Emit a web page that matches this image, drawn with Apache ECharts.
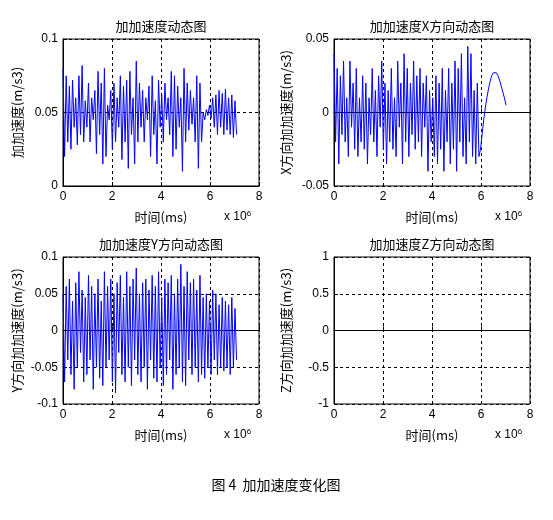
<!DOCTYPE html><html><head><meta charset="utf-8"><script src="https://cdn.jsdelivr.net/npm/echarts@6/dist/echarts.min.js"></script>
<style>body{margin:0;background:#fff}#c{width:553px;height:520px}</style></head><body><div id="c"></div><script>
const titles=['加加速度动态图','加加速度X方向动态图','加加速度Y方向动态图','加加速度Z方向动态图'];
const yNames=['加加速度(m/s3)','X方向加加速度(m/s3)','Y方向加加速度(m/s3)','Z方向加加速度(m/s3)'];
const xTicks=[0,2,4,6,8];
const step=0.065; // sample spacing in units of 10^6 ms
const accTotal=[0.08,0.02,0.075,0.03,0.068,0.025,0.072,0.04,0.06,0.028,0.075,0.035,0.082,0.03,0.058,0.04,0.07,0.03,0.06,0.045,0.065,0.022,0.078,0.035,0.07,0.015,0.08,0.02,0.055,0.045,0.065,0.025,0.07,0.03,0.06,0.04,0.075,0.018,0.068,0.03,0.072,0.012,0.078,0.035,0.06,0.015,0.085,0.03,0.07,0.04,0.065,0.03,0.06,0.045,0.068,0.02,0.075,0.035,0.058,0.015,0.072,0.04,0.062,0.03,0.07,0.045,0.06,0.035,0.078,0.02,0.075,0.025,0.068,0.04,0.06,0.01,0.08,0.03,0.07,0.038,0.065,0.042,0.06,0.03,0.075,0.012,0.07,0.03,0.05,0.045,0.052,0.048,0.055,0.046,0.06,0.04,0.062,0.035,0.065,0.04,0.063,0.035,0.066,0.038,0.06,0.035,0.062,0.033,0.058,0.035];
const accX=[0.04,-0.02,0.03,-0.035,0.025,-0.015,0.035,-0.02,0.01,-0.03,0.035,-0.01,0.02,-0.025,0.03,-0.03,0.01,-0.02,0.025,-0.025,0.02,-0.035,0.01,-0.015,0.03,-0.02,0.015,-0.03,0.025,-0.01,0.035,-0.025,0.02,-0.035,0.015,-0.02,0.03,-0.025,0.01,-0.03,0.035,-0.01,0.02,-0.035,0.04,-0.02,0.03,-0.03,0.02,-0.015,0.035,-0.025,0.025,-0.02,0.03,-0.03,0.02,-0.01,0.025,-0.04,0.015,-0.02,0.01,-0.03,0.025,-0.035,0.02,-0.025,0.03,-0.04,0.015,-0.02,0.03,-0.035,0.02,-0.025,0.035,-0.04,0.03,-0.02,0.04,-0.03,0.01,-0.035,0.045,-0.02,0.04,-0.03,0.015,-0.035,0.02,-0.03,-0.025,-0.015,-0.005,0.003,0.01,0.016,0.021,0.025,0.027,0.028,0.027,0.025,0.022,0.018,0.014,0.01,0.005];
const accY=[0.05,-0.07,0.06,-0.04,0.07,-0.06,0.04,-0.08,0.065,-0.05,0.08,-0.03,0.055,-0.07,0.045,-0.06,0.075,-0.04,0.06,-0.08,0.05,-0.05,0.07,-0.065,0.04,-0.075,0.08,-0.05,0.06,-0.04,0.07,-0.07,0.05,-0.085,0.065,-0.03,0.075,-0.06,0.045,-0.07,0.08,-0.05,0.06,-0.075,0.07,-0.04,0.085,-0.06,0.05,-0.07,0.065,-0.05,0.07,-0.08,0.055,-0.04,0.075,-0.065,0.06,-0.07,0.08,-0.05,0.045,-0.075,0.07,-0.06,0.065,-0.04,0.075,-0.08,0.05,-0.06,0.07,-0.05,0.09,-0.07,0.06,-0.075,0.08,-0.04,0.065,-0.06,0.07,-0.05,0.055,-0.07,0.075,-0.06,0.045,-0.065,0.05,-0.05,0.04,-0.06,0.055,-0.04,0.05,-0.06,0.035,-0.05,0.045,-0.055,0.04,-0.05,0.035,-0.06,0.045,-0.05,0.03,-0.04];
const accZ=[0,0,0,0,0,0,0,0,0,0,0,0];
const zStep=0.65;
const yRanges=[[0,0.1,0.05],[-0.05,0.05,0.05],[-0.1,0.1,0.05],[-1,1,0.5]];
const series=[accTotal,accX,accY,accZ];
const steps=[step,step,step,zStep];
const lefts=[63,334,63,334], tops=[39,39,257,257];
const W=196,H=147;
const f='"Noto Sans CJK SC"';
const grid=[],xAxis=[],yAxis=[],ser=[],graphic=[];
for(let i=0;i<4;i++){
 grid.push({left:lefts[i],top:tops[i],width:W,height:H,show:true,borderColor:'#000',borderWidth:1});
 xAxis.push({gridIndex:i,type:'value',min:0,max:8,interval:2,axisLine:{lineStyle:{color:'#000'}},axisTick:{inside:true,length:4,lineStyle:{color:'#000'}},axisLabel:{color:'#000',fontSize:12,fontFamily:'Liberation Sans',margin:5},splitLine:{show:true,lineStyle:{color:'#000',type:[3,3]}}});
 const r=yRanges[i];
 yAxis.push({gridIndex:i,type:'value',min:r[0],max:r[1],interval:r[2],axisLine:{lineStyle:{color:'#000'}},axisTick:{inside:true,length:4,lineStyle:{color:'#000'}},axisLabel:{color:'#000',fontSize:12,fontFamily:'Liberation Sans',margin:5,formatter:v=>String(+v.toFixed(2))},splitLine:{show:true,lineStyle:{color:'#000',type:[3,3]}}});
 const col=i===3?'#000':'#0000ff';
 ser.push({type:'line',xAxisIndex:i,yAxisIndex:i,showSymbol:false,animation:false,lineStyle:{color:col,width:1},data:series[i].map((v,k)=>[k*steps[i],v])});
 graphic.push({type:'text',x:lefts[i]+W/2,y:tops[i]-13,style:{text:titles[i],font:'13px '+f,fill:'#000',textAlign:'center',textVerticalAlign:'middle'}});
 graphic.push({type:'text',x:lefts[i]+W/2,y:tops[i]+H+31,style:{text:'时间(ms)',font:'13px '+f,fill:'#000',textAlign:'center',textVerticalAlign:'middle'}});
 graphic.push({type:'text',x:lefts[i]+W-35,y:tops[i]+H+19,style:{rich:{a:{fontSize:12,fontFamily:'Liberation Sans',padding:[6,0,0,0]},b:{fontSize:8,fontFamily:'Liberation Sans'}},text:'{a|x 10}{b|6}',fill:'#000'}});
 graphic.push({type:'text',x:lefts[i]-(i%2?48:46),y:tops[i]+H/2,rotation:Math.PI/2,style:{text:yNames[i],font:'13px '+f,fill:'#000',textAlign:'center',textVerticalAlign:'middle'}});
}
graphic.push({type:'text',x:276,y:485,style:{text:'图 4  加加速度变化图',font:'14px '+f,fill:'#000',textAlign:'center',textVerticalAlign:'middle'}});
const ch=echarts.init(document.getElementById('c'));
ch.setOption({animation:false,grid,xAxis,yAxis,series:ser,graphic});
</script></body></html>
